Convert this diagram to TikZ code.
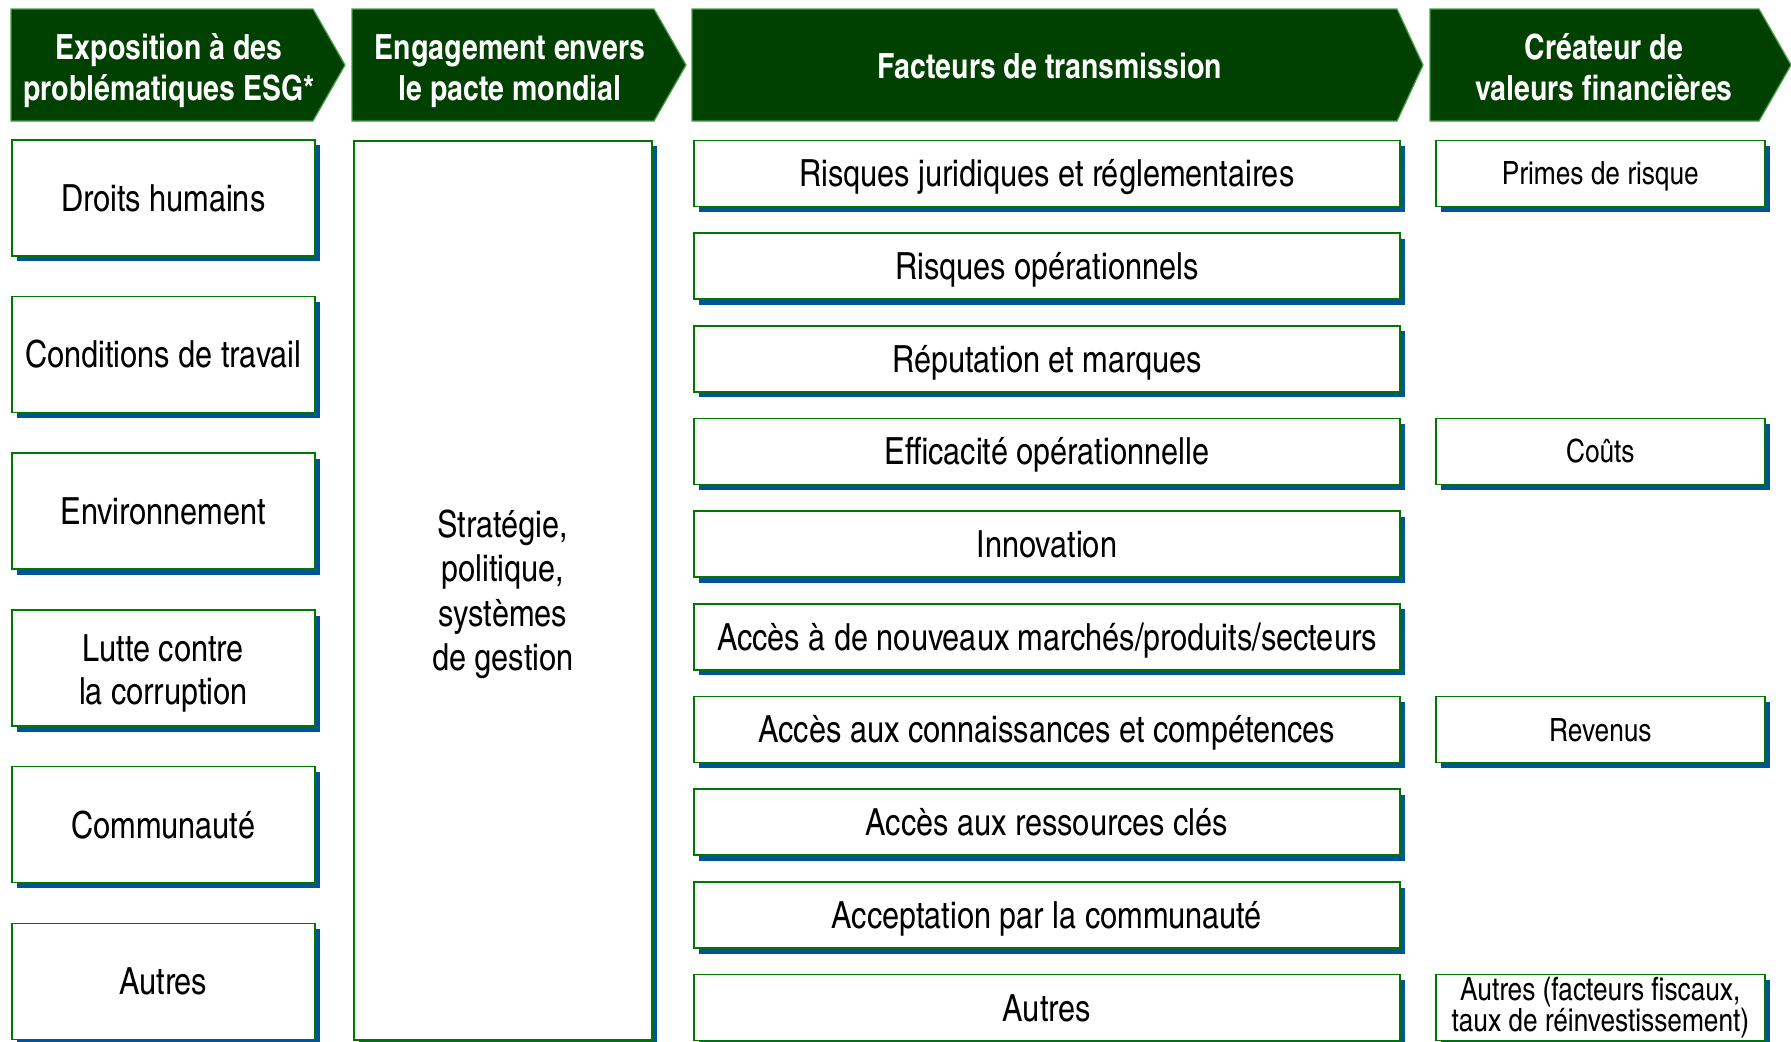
\documentclass[tikz,border=0pt]{standalone}
\usepackage{fontspec}
\setmainfont{texgyreheroscn}[Extension=.otf, UprightFont=*-regular, BoldFont=*-bold, ItalicFont=*-italic, BoldItalicFont=*-bolditalic]
\usetikzlibrary{shadows}
\definecolor{hdr}{RGB}{0,64,0}
\definecolor{hdrline}{RGB}{70,160,70}
\definecolor{boxline}{RGB}{0,120,0}
\definecolor{shadowblue}{RGB}{0,84,150}
\tikzset{
  header/.style={fill=hdr, draw=hdrline, line width=0.6pt},
  htext/.style={text=white, font=\bfseries\fontsize{17.35}{20.5}\selectfont, align=center, inner sep=0pt},
  box/.style={draw=boxline, fill=white, line width=0.8pt, inner sep=0pt, anchor=north west, align=center,
    drop shadow={shadow xshift=2.8pt, shadow yshift=-2.8pt, fill=shadowblue, opacity=1}},
  oneline/.style={text height=13.46pt, text depth=0pt},
  onelinesmall/.style={text height=11.5pt, text depth=0pt},
  bodyfont/.style={font=\fontsize{18.7}{21.9}\selectfont},
  colA/.style={box, minimum width=151.5pt, minimum height=58pt, bodyfont},
  colB/.style={box, minimum width=149pt, minimum height=449.5pt},
  colC/.style={box, minimum width=353pt, minimum height=33pt, bodyfont, oneline},
  colD/.style={box, minimum width=164.5pt, minimum height=33pt, font=\fontsize{16}{15.4}\selectfont},
  inner/.style={align=center, inner sep=0pt, bodyfont},
}
\begin{document}
\begin{tikzpicture}[x=0.5pt,y=-0.5pt]
\useasboundingbox (0,0) rectangle (1791,1041);
% headers
\draw[header] (11,9) -- (313,9) -- (345,65) -- (313,121) -- (11,121) -- cycle;
\draw[header] (352,9) -- (654,9) -- (686,65) -- (654,121) -- (352,121) -- cycle;
\draw[header] (692,9) -- (1397,9) -- (1423,65) -- (1397,121) -- (692,121) -- cycle;
\draw[header] (1430,9) -- (1759,9) -- (1791,65) -- (1759,121) -- (1430,121) -- cycle;
\node[htext] (h1) at (169,70.5) {Exposition à des\\problématiques ESG*};
\node[htext] (h2) at (510,71) {Engagement envers\\le pacte mondial};
\node[htext] (h3) at (1050,66) {Facteurs de transmission};
\node[htext] (h4) at (1604,67.5) {Créateur de\\valeurs financières};
% column 1
\node[colA, oneline] (a1) at (11,139) {Droits humains};
\node[colA, oneline] (a2) at (11,295.7) {Conditions de travail};
\node[colA, oneline] (a3) at (11,452.4) {Environnement};
\node[colA] (a4) at (11,609.1) {};
\node[inner] (a4t) at ([yshift=-2.8pt]a4.center) {Lutte contre\\la corruption};
\node[colA, oneline] (a5) at (11,765.8) {Communauté};
\node[colA, oneline] (a6) at (11,922.5) {Autres};
% column 2
\node[colB] (b1) at (353,140) {};
\node[inner, font=\fontsize{18.7}{22.2}\selectfont] (b1t) at ([yshift=-2pt]b1.center) {Stratégie,\\politique,\\systèmes\\de gestion};
% column 3
\node[colC] (c1) at (693,139.5) {Risques juridiques et réglementaires};
\node[colC] (c2) at (693,232.2) {Risques opérationnels};
\node[colC] (c3) at (693,324.9) {Réputation et marques};
\node[colC] (c4) at (693,417.6) {Efficacité opérationnelle};
\node[colC] (c5) at (693,510.3) {Innovation};
\node[colC] (c6) at (693,603.0) {Accès à de nouveaux marchés/produits/secteurs};
\node[colC] (c7) at (693,695.7) {Accès aux connaissances et compétences};
\node[colC] (c8) at (693,788.4) {Accès aux ressources clés};
\node[colC] (c9) at (693,881.1) {Acceptation par la communauté};
\node[colC] (c10) at (693,973.8) {Autres};
% column 4
\node[colD, onelinesmall] (d1) at (1435,139.5) {Primes de risque};
\node[colD, onelinesmall] (d2) at (1435,417.6) {Coûts};
\node[colD, onelinesmall] (d3) at (1435,695.7) {Revenus};
\node[colD] (d4) at (1435,973.8) {Autres (facteurs fiscaux,\\taux de réinvestissement)};
\end{tikzpicture}
\end{document}
